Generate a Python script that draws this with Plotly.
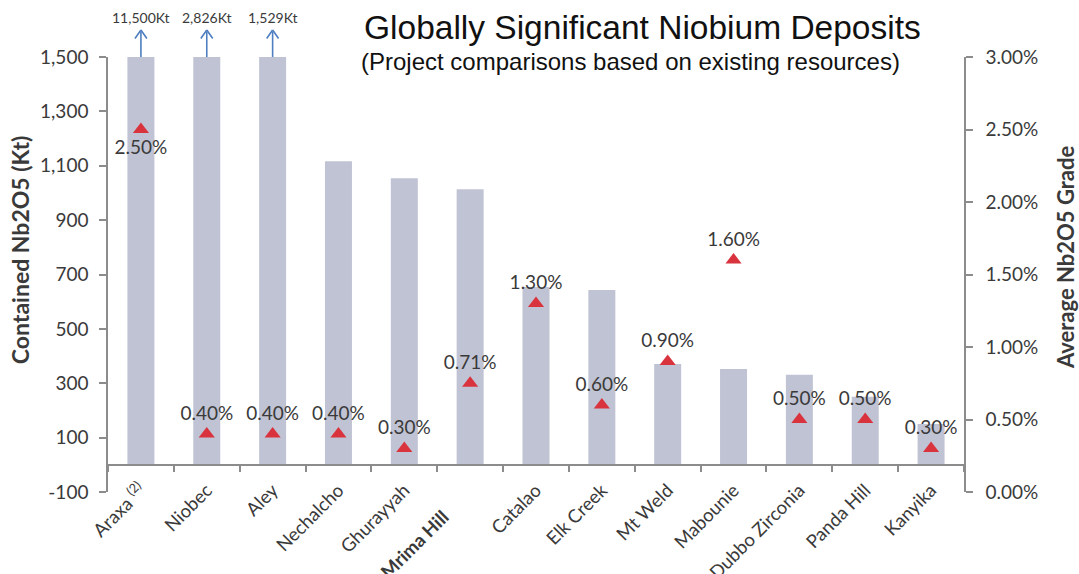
import plotly.graph_objects as go

# ---- data ----
deposits = ["Araxa", "Niobec", "Aley", "Nechalcho", "Ghurayyah", "Mrima Hill",
            "Catalao", "Elk Creek", "Mt Weld", "Mabounie", "Dubbo Zirconia",
            "Panda Hill", "Kanyika"]
tick_labels = ["Araxa <sup>(2)</sup>", "Niobec", "Aley", "Nechalcho", "Ghurayyah",
               "<b>Mrima Hill</b>", "Catalao", "Elk Creek", "Mt Weld", "Mabounie",
               "Dubbo Zirconia", "Panda Hill", "Kanyika"]
contained_kt = [11500, 2826, 1529, 1117, 1054, 1014, 654, 643, 371, 352, 331, 250, 150]
grade_pct = [2.50, 0.40, 0.40, 0.40, 0.30, 0.75, 1.30, 0.60, 0.90, 1.60, 0.50, 0.50, 0.30]
grade_labels = ["2.50%", "0.40%", "0.40%", "0.40%", "0.30%", "0.71%", "1.30%",
                "0.60%", "0.90%", "1.60%", "0.50%", "0.50%", "0.30%"]
label_pos = ["bottom center"] + ["top center"] * 12
left_ticks = [-100, 100, 300, 500, 700, 900, 1100, 1300, 1500]
right_ticks = [0.0, 0.5, 1.0, 1.5, 2.0, 2.5, 3.0]
y_max = 1500

FONT = "Lato"
AXIS_GREY = "#8c8c8c"
TEXT = "#3a3a3a"
ARROW = "#4f7fc0"

left_tick_text = [f"{v:,}" for v in left_ticks]
right_tick_text = [f"{v:.2f}%" for v in right_ticks]
# the highlighted project label sits lower along its slant in the original
x_tick_text = [t + ("\u00a0" * 8 if "<b>" in t else "") for t in tick_labels]

fig = go.Figure()

fig.add_trace(go.Bar(
    x=deposits, y=contained_kt, width=0.41,
    marker=dict(color="#c0c3d3", line=dict(width=0)),
    xaxis="x", yaxis="y", hoverinfo="x+y",
))

fig.add_trace(go.Scatter(
    x=deposits, y=grade_pct, mode="markers+text",
    marker=dict(symbol="triangle-up", size=14, color="#d9343e"),
    text=grade_labels, textposition=label_pos,
    textfont=dict(family=FONT, size=19, color=TEXT),
    xaxis="x", yaxis="y2", cliponaxis=False,
))

# dummy trace to activate the zero-line axis
fig.add_trace(go.Scatter(x=[], y=[], xaxis="x2", yaxis="y", showlegend=False))

annotations = []
# overflow markers for capped bars
for name, v in zip(deposits, contained_kt):
    if v > y_max:
        annotations.append(dict(
            x=name, y=y_max, xref="x", yref="y", text="", showarrow=True,
            ax=0, ay=-27, arrowhead=0, arrowwidth=1.6, arrowcolor=ARROW,
            standoff=0, startstandoff=0,
        ))
        for dx in (-7, 7):
            annotations.append(dict(
                x=name, y=y_max, xref="x", yref="y", yshift=27,
                text="", showarrow=True, ax=dx, ay=10,
                arrowhead=0, arrowwidth=1.6, arrowcolor=ARROW,
            ))
        annotations.append(dict(
            x=name, y=y_max, xref="x", yref="y", yshift=40,
            text=f"{v:,}Kt", showarrow=False, xanchor="center", yanchor="middle",
            font=dict(family=FONT, size=14, color=TEXT),
        ))

annotations.append(dict(
    x=0.624, y=1.0, xref="paper", yref="paper", yshift=30,
    xanchor="center", yanchor="middle",
    text="Globally Significant Niobium Deposits", showarrow=False,
    font=dict(family="Liberation Sans", size=33.5, color="#111111"),
))
annotations.append(dict(
    x=0.61, y=1.0, xref="paper", yref="paper", yshift=-4,
    xanchor="center", yanchor="middle",
    text="(Project comparisons based on existing resources)", showarrow=False,
    font=dict(family="Liberation Sans", size=24, color="#111111"),
))
# axis titles
annotations.append(dict(
    x=-0.1028, y=0.556, xref="paper", yref="paper", textangle=-90,
    xanchor="center", yanchor="middle",
    text="<b>Contained Nb2O5 (Kt)</b>", showarrow=False,
    font=dict(family=FONT, size=23, color=TEXT),
))
annotations.append(dict(
    x=1.118, y=0.540, xref="paper", yref="paper", textangle=-90,
    xanchor="center", yanchor="middle",
    text="<b>Average Nb2O5 Grade</b>", showarrow=False,
    font=dict(family=FONT, size=22, color=TEXT),
))

fig.update_layout(
    width=1079, height=574,
    margin=dict(l=108, r=115, t=57, b=82),
    paper_bgcolor="white", plot_bgcolor="white",
    showlegend=False,
    font=dict(family=FONT, color=TEXT),
    xaxis=dict(
        type="category", range=[-0.5, 12.5],
        tickvals=deposits, ticktext=x_tick_text, tickangle=-45,
        tickfont=dict(family=FONT, size=18.5, color=TEXT),
        ticklabelstandoff=-17,
        showline=False, ticks="", showgrid=False, zeroline=False,
        automargin=False,
    ),
    xaxis2=dict(
        type="linear", range=[-0.5, 12.5], overlaying="x", anchor="free",
        position=(0 - left_ticks[0]) / (y_max - left_ticks[0]),
        tickvals=[i - 0.5 for i in range(len(deposits) + 1)],
        ticks="outside", ticklen=6, tickcolor=AXIS_GREY, tickwidth=1.5,
        showticklabels=False, showline=True, linecolor=AXIS_GREY, linewidth=1.5,
        showgrid=False, zeroline=False,
    ),
    yaxis=dict(
        range=[left_ticks[0], y_max], tickvals=left_ticks, ticktext=left_tick_text,
        tickfont=dict(family=FONT, size=19, color=TEXT),
        ticks="outside", ticklen=7, tickcolor=AXIS_GREY, tickwidth=1.5,
        ticklabelstandoff=7,
        showline=True, linecolor=AXIS_GREY, linewidth=1.5,
        showgrid=False, zeroline=False, automargin=False,
    ),
    yaxis2=dict(
        range=[right_ticks[0], right_ticks[-1]], tickvals=right_ticks,
        ticktext=right_tick_text, overlaying="y", side="right",
        tickfont=dict(family=FONT, size=19, color=TEXT),
        ticks="outside", ticklen=7, tickcolor=AXIS_GREY, tickwidth=1.5,
        ticklabelstandoff=9,
        showline=True, linecolor=AXIS_GREY, linewidth=1.5,
        showgrid=False, zeroline=False, automargin=False,
    ),
    annotations=annotations,
)

fig.write_html(
    "out.html",
    config={"displayModeBar": False},
    post_script=(
        "document.body.style.margin='0';"
        "document.body.style.overflow='hidden';"
        "document.documentElement.style.overflow='hidden';"
    ),
)
